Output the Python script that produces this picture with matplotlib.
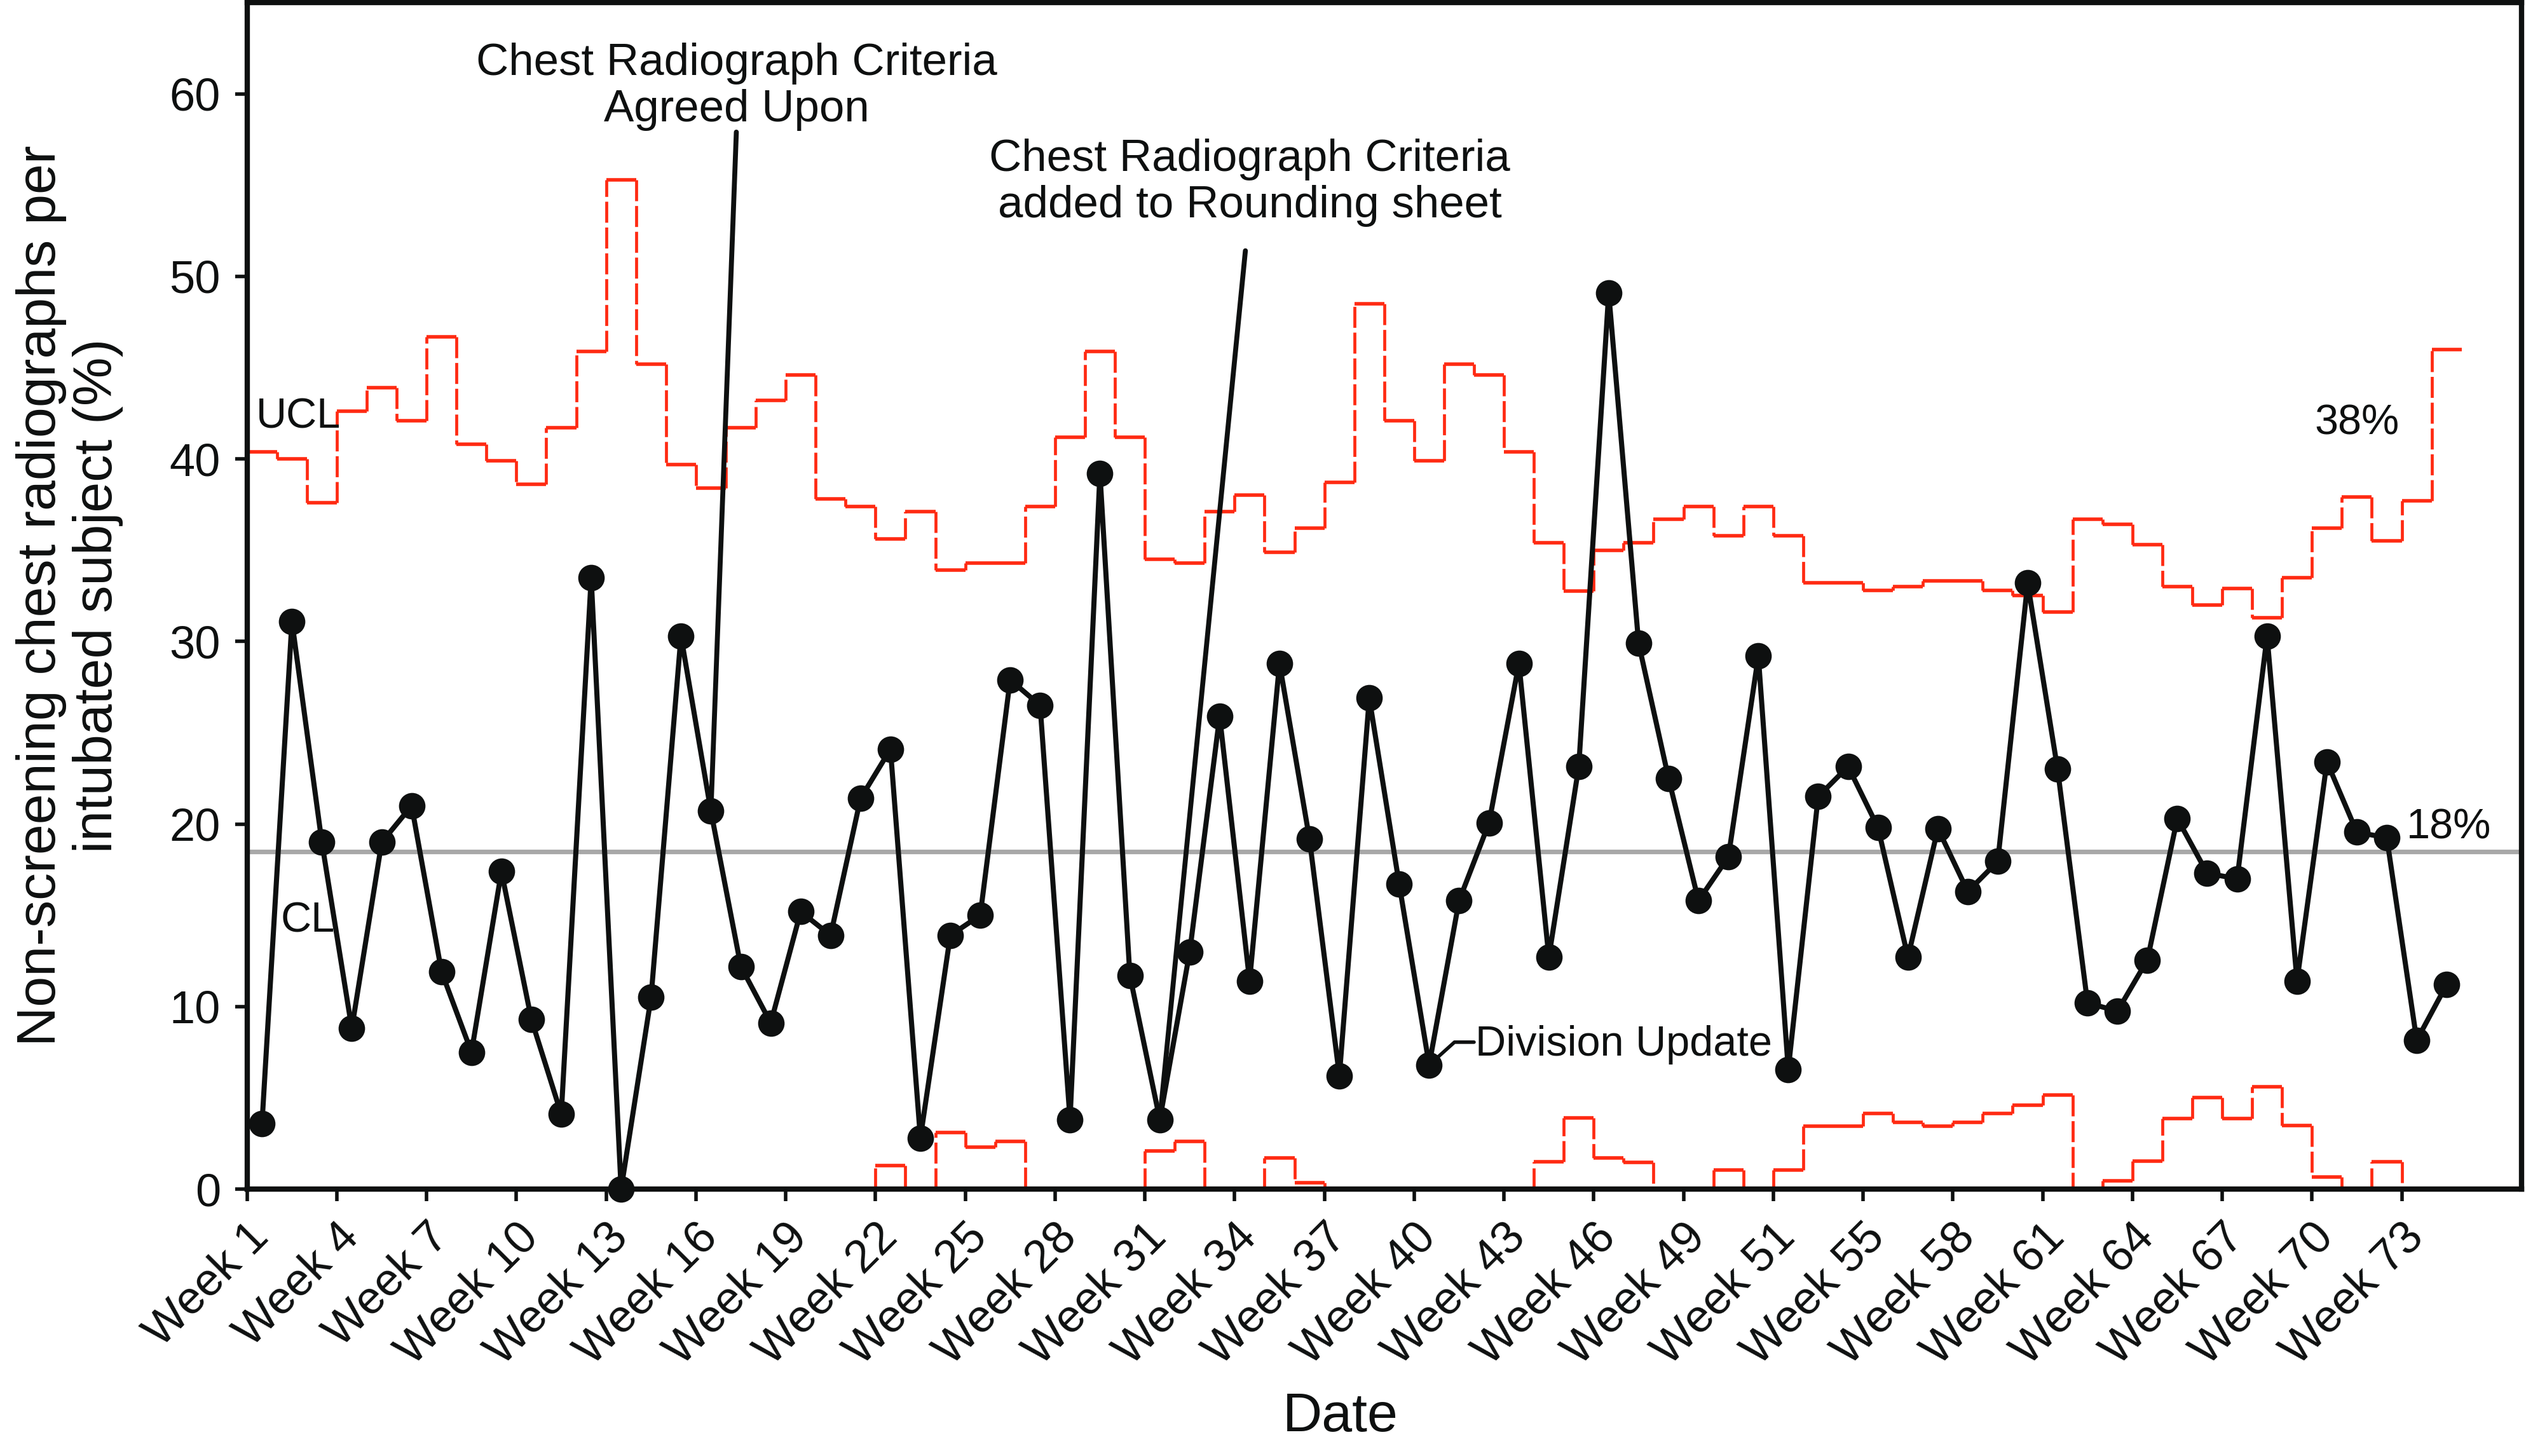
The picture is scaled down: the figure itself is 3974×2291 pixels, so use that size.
import matplotlib
matplotlib.use("Agg")
import matplotlib.pyplot as plt
import numpy as np

# ---------------- data ----------------
tick_labels = ["Week 1", "Week 4", "Week 7", "Week 10", "Week 13", "Week 16", "Week 19",
               "Week 22", "Week 25", "Week 28", "Week 31", "Week 34", "Week 37", "Week 40",
               "Week 43", "Week 46", "Week 49", "Week 51", "Week 55", "Week 58", "Week 61",
               "Week 64", "Week 67", "Week 70", "Week 73"]

values = [3.6, 31.1, 19.0, 8.8, 19.0, 21.0, 11.9, 7.5, 17.4, 9.3,
          4.1, 33.5, 0.0, 10.5, 30.3, 20.7, 12.2, 9.1, 15.2, 13.9,
          21.4, 24.1, 2.8, 13.9, 15.0, 27.9, 26.5, 3.8, 39.2, 11.7,
          3.8, 13.0, 25.9, 11.4, 28.8, 19.2, 6.2, 26.9, 16.7, 6.8,
          15.8, 20.05, 28.8, 12.7, 23.15, 49.1, 29.9, 22.5, 15.8, 18.2,
          29.2, 6.55, 21.5, 23.15, 19.8, 12.7, 19.75, 16.3, 17.95, 33.2,
          23.0, 10.2, 9.75, 12.55, 20.3, 17.3, 17.0, 30.3, 11.4, 23.4,
          19.55, 19.25, 8.15, 11.2]

ucl = [40.4, 40.0, 37.6, 42.6, 43.9, 42.1, 46.7, 40.8, 39.9, 38.6,
       41.7, 45.9, 55.3, 45.2, 39.7, 38.4, 41.7, 43.2, 44.6, 37.8,
       37.4, 35.6, 37.1, 33.9, 34.3, 34.3, 37.4, 41.2, 45.9, 41.2,
       34.5, 34.3, 37.1, 38.0, 34.9, 36.2, 38.7, 48.5, 42.1, 39.9,
       45.2, 44.6, 40.4, 35.4, 32.75, 35.0, 35.4, 36.7, 37.4, 35.8,
       37.4, 35.8, 33.2, 33.2, 32.8, 33.0, 33.3, 33.3, 32.8, 32.5,
       31.6, 36.7, 36.4, 35.3, 33.0, 32.0, 32.9, 31.3, 33.5, 36.2,
       37.9, 35.5, 37.7, 46.0]

lcl = [0, 0, 0, 0, 0, 0, 0, 0, 0, 0,
       0, 0, 0, 0, 0, 0, 0, 0, 0, 0,
       0, 1.3, 0, 3.1, 2.3, 2.6, 0, 0, 0, 0,
       2.1, 2.6, 0, 0, 1.7, 0.35, 0, 0, 0, 0,
       0, 0, 0, 1.5, 3.9, 1.7, 1.45, 0, 0, 1.05,
       0, 1.05, 3.45, 3.45, 4.15, 3.65, 3.45, 3.65, 4.15, 4.6,
       5.15, 0, 0.45, 1.55, 3.85, 5.0, 3.85, 5.6, 3.5, 0.65,
       0, 1.5, 0, 0]

center_line = 18.5
idx_agreed = 15
idx_rounding = 30
idx_division = 39

# ---------------- style ----------------
FONT = ["Liberation Sans", "DejaVu Sans"]
plt.rcParams["font.family"] = FONT
BLACK = "#0e1010"
RED = "#ff2a12"
GREY = "#a8a8a8"

W, H, DPI = 3974, 2291, 200
fig = plt.figure(figsize=(W / DPI, H / DPI), dpi=DPI)
ax = fig.add_axes([0.0978, 0.1833, 0.9004, 0.8150])

x = np.arange(len(values))
ucl_a = np.array(ucl)
lcl_a = np.array(lcl)

# control limits: solid horizontal steps, dashed vertical risers
for lim in (ucl_a, lcl_a):
    ax.hlines(lim, x - 0.5, x + 0.5, colors=RED, lw=2.0, zorder=2)
    ax.vlines(x[:-1] + 0.5, lim[:-1], lim[1:], colors=RED, lw=1.7,
              linestyles=[(0, (7, 1.6))], zorder=2)

ax.axhline(center_line, color=GREY, lw=2.6, zorder=1)

ax.plot(x, values, "-o", color=BLACK, lw=2.9, ms=14, zorder=5, clip_on=False)

ax.set_xlim(-0.5, 75.5)
ax.set_ylim(0, 65)

ax.set_xticks(np.arange(0, 3 * len(tick_labels), 3) - 0.5)
ax.set_xticklabels(tick_labels, rotation=45, ha="right", va="top",
                   rotation_mode="anchor")
ax.set_yticks(np.arange(0, 61, 10))
ax.tick_params(axis="both", direction="out", length=7, width=2.0,
               labelsize=26, colors=BLACK, pad=8)
ax.tick_params(axis="x", pad=8)

for sp in ax.spines.values():
    sp.set_linewidth(3.0)
    sp.set_color(BLACK)
    sp.set_zorder(3)

ax.set_xlabel("Date", fontsize=31, color=BLACK)
ax.xaxis.set_label_coords(0.4806, -0.192)
ax.xaxis.label.set_va("center")
ax.set_ylabel("Non-screening chest radiographs per\nintubated subject (%)",
              fontsize=31, color=BLACK, linespacing=1.15)
ax.yaxis.set_label_coords(-0.078, 0.5)
ax.yaxis.label.set_va("center")

# ---------------- annotations ----------------
ax.text(15.85, 57.95, "Chest Radiograph Criteria\nAgreed Upon", ha="center",
        va="bottom", fontsize=25.5, color=BLACK, linespacing=1.15)
ax.annotate("", xy=(idx_agreed, values[idx_agreed]), xytext=(15.85, 57.9),
            arrowprops=dict(arrowstyle="-", color=BLACK, lw=2.8,
                            shrinkA=0, shrinkB=0), zorder=4)

ax.text(33.0, 52.7, "Chest Radiograph Criteria\nadded to Rounding sheet", ha="center",
        va="bottom", fontsize=25.5, color=BLACK, linespacing=1.15)
ax.annotate("", xy=(idx_rounding, values[idx_rounding]), xytext=(32.86, 51.4),
            arrowprops=dict(arrowstyle="-", color=BLACK, lw=2.8,
                            shrinkA=0, shrinkB=0), zorder=4)

ax.text(40.55, 7.3, "Division Update", ha="left", va="baseline",
        fontsize=24, color=BLACK)
ax.annotate("", xy=(idx_division, values[idx_division]), xytext=(40.5, 8.05),
            arrowprops=dict(arrowstyle="-", color=BLACK, lw=2.0,
                            shrinkA=0, shrinkB=0,
                            connectionstyle="angle,angleA=0,angleB=42,rad=0"),
            zorder=4)

ax.text(-0.2, 41.7, "UCL", ha="left", va="baseline", fontsize=24, color=BLACK)
ax.text(0.63, 14.07, "CL", ha="left", va="baseline", fontsize=24, color=BLACK)
ax.text(68.58, 41.33, "38%", ha="left", va="baseline", fontsize=24, color=BLACK)
ax.text(71.65, 19.2, "18%", ha="left", va="baseline", fontsize=24, color=BLACK)

fig.savefig("out.png", dpi=DPI)
